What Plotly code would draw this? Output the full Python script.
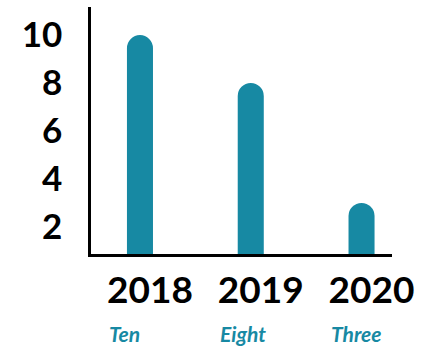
import plotly.graph_objects as go

# Chart data
years = ["2018", "2019", "2020"]
values = [10, 8, 3]
value_words = ["Ten", "Eight", "Three"]
y_ticks = [2, 4, 6, 8, 10]

teal = "#1789A3"

fig = go.Figure(
    go.Bar(
        x=years,
        y=values,
        width=0.235,
        marker=dict(color=teal, cornerradius="50%", line=dict(width=0)),
        hoverinfo="skip",
    )
)

# Word labels under each year
for i, word in enumerate(value_words):
    fig.add_annotation(
        x=i, xref="x", y=-0.323, yref="paper",
        text="<i>" + word + "</i>", showarrow=False,
        xanchor="left", yanchor="middle",
        xshift=-33,
        font=dict(family="Lato", size=21, color=teal, weight="bold"),
    )

fig.update_xaxes(
    type="category",
    range=[-0.442, 2.275],
    showline=True, linecolor="black", linewidth=2.5,
    showgrid=False, zeroline=False, ticks="",
    ticklabelshift=10, ticklabelstandoff=2,
    tickfont=dict(family="Lato", size=37, color="black", weight="bold"),
)
fig.update_yaxes(
    range=[0.875, 11.17],
    tickvals=y_ticks,
    showline=True, linecolor="black", linewidth=2.5,
    showgrid=False, zeroline=False, ticks="",
    ticklabelstandoff=19,
    tickfont=dict(family="Lato", size=35, color="black", weight="bold"),
)

fig.update_layout(
    width=435, height=346,
    margin=dict(l=91, r=43, t=7, b=92, autoexpand=False),
    plot_bgcolor="white", paper_bgcolor="white",
    showlegend=False,
)

fig.write_html("out.html")
